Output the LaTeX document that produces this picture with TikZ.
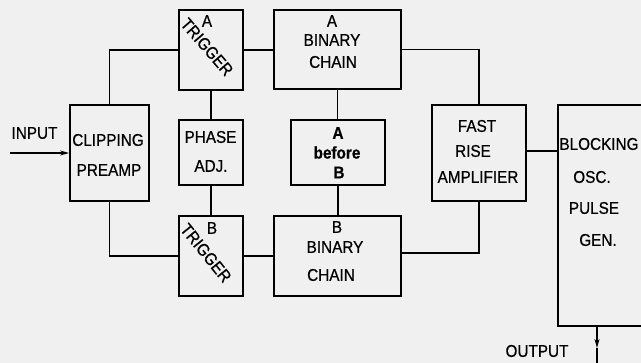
\documentclass[tikz,border=0pt]{standalone}
\usepackage{fontspec}
\setmainfont{Liberation Sans}[FakeStretch=0.9, FakeBold=0.6]
\usetikzlibrary{arrows.meta}
\begin{document}
\begin{tikzpicture}[x=1pt,y=-1pt,
  box/.style={draw, line width=1.8pt, inner sep=0pt},
  wire/.style={line width=1.8pt},
  lbl/.style={inner sep=0pt, font=\fontsize{17}{20}\selectfont},
  blbl/.style={inner sep=0pt, font=\fontsize{17}{20}\selectfont\bfseries},
  tip/.style={-{Stealth[length=9pt,width=5pt]}}]
\useasboundingbox (0,0) rectangle (641,363);
\fill[white!94!black] (0,0) rectangle (641,363);
% boxes
\node[box, minimum width=79, minimum height=96] (clip) at (109.5,153) {};
\node[box, minimum width=64, minimum height=80] (atrig) at (211,50) {};
\node[box, minimum width=64, minimum height=65] (phase) at (211,152.5) {};
\node[box, minimum width=64, minimum height=80] (btrig) at (211,256) {};
\node[box, minimum width=127, minimum height=79] (abin) at (337.5,49.5) {};
\node[box, minimum width=94, minimum height=65] (ab) at (338,152.5) {};
\node[box, minimum width=127, minimum height=80] (bbin) at (337.5,256) {};
\node[box, minimum width=94, minimum height=96] (fast) at (479,153) {};
\node[inner sep=0pt, minimum width=83, minimum height=221] (block) at (599.5,215.5) {};
\draw[wire] (block.north east) -- (block.north west) -- (block.south west) -- (block.south east);
% texts
\node[lbl] (tin) at (34.5,133) {INPUT};
\node[lbl] at (108,140) {CLIPPING};
\node[lbl] at (109,170) {PREAMP};
\node[lbl] at (207,21) {A};
\node[lbl, rotate=-49] at (207,47) {TRIGGER};
\node[lbl] at (210.5,137) {PHASE};
\node[lbl] at (211,166) {ADJ.};
\node[lbl] at (212,228) {B};
\node[lbl, rotate=-51] at (206,253) {TRIGGER};
\node[lbl] at (332,21) {A};
\node[lbl] at (332,40) {BINARY};
\node[lbl] at (333,62) {CHAIN};
\node[blbl] at (338,133) {A};
\node[blbl] at (337,152.5) {before};
\node[blbl] at (339,172.5) {B};
\node[lbl] at (337,227) {B};
\node[lbl] at (335,247) {BINARY};
\node[lbl] at (331,275) {CHAIN};
\node[lbl] at (477,126) {FAST};
\node[lbl] at (473,151) {RISE};
\node[lbl] at (478,177) {AMPLIFIER};
\node[lbl] at (599,144) {BLOCKING};
\node[lbl] at (592,177) {OSC.};
\node[lbl] at (594,208) {PULSE};
\node[lbl] at (598,240) {GEN.};
\node[lbl] (tout) at (537,351) {OUTPUT};
% connectors
\coordinate (in) at (10,153);
\coordinate (outtip) at (597,348);
\coordinate (outend) at (597,364);
\draw[wire, tip] (in) -- (clip.west);
\draw[wire] (clip.north) |- (atrig.west);
\draw[wire] (clip.south) |- (btrig.west);
\draw[wire] (atrig.south) -- (phase.north);
\draw[wire] (phase.south) -- (btrig.north);
\draw[wire] (atrig.east) -- (atrig.east -| abin.west);
\draw[wire] (btrig.east) -- (bbin.west);
\draw[wire] (abin.south) -- (abin.south |- ab.north);
\draw[wire] (ab.south) -- (ab.south |- bbin.north);
\draw[wire] (abin.east) -| (fast.north);
\draw[wire] (fast.south) |- ([yshift=3pt]bbin.east);
\draw[wire] ([yshift=2pt]fast.east) -- ([yshift=2pt]fast.east -| block.west);
\draw[wire, tip] (outtip |- block.south) -- (outtip);
\draw[wire] (outtip) -- (outend);
\end{tikzpicture}
\end{document}
